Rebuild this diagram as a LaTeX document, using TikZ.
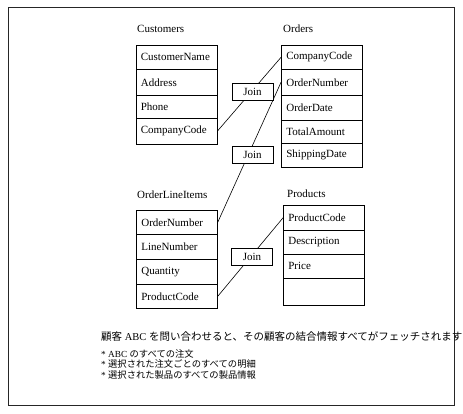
\documentclass[tikz,border=0pt]{standalone}
\usepackage{fontspec}
\setmainfont{Liberation Serif}
\newfontfamily\jpfont{Noto Sans CJK JP}
\usetikzlibrary{positioning}

\begin{document}
\begin{tikzpicture}[
  x=1pt, y=-1pt,
  field/.style={
    rectangle, draw=black, line width=0.7pt,
    anchor=north west,
    text width=71pt, align=left,
    inner xsep=5pt, inner ysep=0pt,
    font=\fontsize{11}{12}\selectfont
  },
  tablelabel/.style={
    anchor=west, inner sep=0pt,
    font=\fontsize{11}{12}\selectfont
  },
  joinbox/.style={
    rectangle, draw=black, fill=white, line width=0.7pt,
    minimum width=41pt, minimum height=17pt, inner sep=0pt,
    font=\fontsize{11}{12}\selectfont
  },
  joinline/.style={draw=black, line width=0.6pt},
  notetext/.style={
    anchor=west, inner sep=0pt,
    font=\fontsize{9.3}{11}\selectfont
  },
]

\useasboundingbox (0,0) rectangle (463,413);

%% ================================================================
%% FRAME
%% ================================================================
\draw[black!85, line width=0.9pt] (8,7) rectangle (454,405);

%% ================================================================
%% CUSTOMERS
%% ================================================================
\node[tablelabel] (custlabel) at (137,29) {Customers};

\node[field, minimum height=24pt] (cu1) at (135.5,45)  {CustomerName};
\node[field, minimum height=26pt] (cu2) at (135.5,69)  {Address};
\node[field, minimum height=23pt] (cu3) at (135.5,95)  {Phone};
\node[field, minimum height=26pt] (cu4) at (135.5,118) {CompanyCode};

%% ================================================================
%% ORDERS
%% ================================================================
\node[tablelabel] (ordlabel) at (283,29) {Orders};

\node[field, minimum height=24pt] (or1) at (281,45)  {CompanyCode};
\node[field, minimum height=26pt] (or2) at (281,69)  {OrderNumber};
\node[field, minimum height=25pt] (or3) at (281,95)  {OrderDate};
\node[field, minimum height=23pt] (or4) at (281,120) {TotalAmount};
\node[field, minimum height=24pt] (or5) at (281,143) {ShippingDate};

%% ================================================================
%% ORDER LINE ITEMS
%% ================================================================
\node[tablelabel] (olilabel) at (137,195) {OrderLineItems};

\node[field, minimum height=24pt] (ol1) at (136,210) {OrderNumber};
\node[field, minimum height=25pt] (ol2) at (136,234) {LineNumber};
\node[field, minimum height=25pt] (ol3) at (136,259) {Quantity};
\node[field, minimum height=24pt] (ol4) at (136,284) {ProductCode};

%% ================================================================
%% PRODUCTS
%% ================================================================
\node[tablelabel] (prodlabel) at (287,194) {Products};

\node[field, minimum height=25pt] (pr1) at (283,205) {ProductCode};
\node[field, minimum height=24pt] (pr2) at (283,230) {Description};
\node[field, minimum height=24pt] (pr3) at (283,254) {Price};
\node[field, minimum height=27pt] (pr4) at (283,278) {};

%% ================================================================
%% JOIN LINES (boxes drawn on top)
%% ================================================================
\draw[joinline] (cu4.east) -- (or1.west);
\draw[joinline] (or2.west) -- (ol1.east);
\draw[joinline] (ol4.east) -- (pr1.west);

\node[joinbox] (join1) at (252.5,92)  {Join};
\node[joinbox] (join2) at (252.5,155) {Join};
\node[joinbox] (join3) at (252,256.5) {Join};

%% ================================================================
%% QUERY NOTE (bottom)
%% ================================================================
\node[notetext, font=\fontsize{10.5}{12}\selectfont] (q0) at (101,336)
  {{\jpfont 顧客} ABC {\jpfont を問い合わせると、その顧客の結合情報すべてがフェッチされます}};

\node[notetext] (q1) at (101,353.5) {* ABC {\jpfont のすべての注文}};
\node[notetext] (q2) at (101,364)   {* {\jpfont 選択された注文ごとのすべての明細}};
\node[notetext] (q3) at (101,375)   {* {\jpfont 選択された製品のすべての製品情報}};

\end{tikzpicture}
\end{document}
